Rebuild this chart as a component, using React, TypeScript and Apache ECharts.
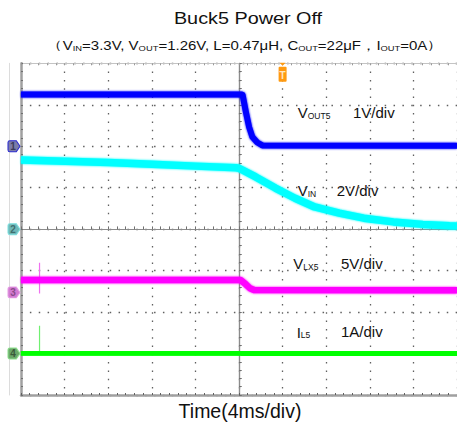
import React, { useEffect, useRef } from 'react';
import * as echarts from 'echarts';

// time in ms relative to the trigger (centre of the screen), 4 ms/div
const timeCh1 = [-20, 0.2, 0.33, 0.63, 0.93, 1.23, 1.68, 2.14, 20];
const vout = [1.25, 1.25, 1.24, 0.83, 0.46, 0.22, 0.09, 0.02, 0.01];

const timeCh2 = [-20, -15.94, -11.97, -8, -3.97, -0.27, 0, 1.53, 3.34, 5.14, 6.94, 9.2, 11.45, 14.16, 16.86, 19.3, 20];
const vin = [3.33, 3.28, 3.21, 3.13, 3.04, 2.96, 2.94, 2.52, 1.98, 1.49, 1.07, 0.77, 0.53, 0.35, 0.23, 0.16, 0.15];

const timeCh3 = [-20, 0.15, 0.6, 1.0, 1.38, 20];
const vlx = [1.48, 1.48, 1.0, 0.5, 0.28, 0.26];

const timeCh4 = [-20, 0.3, 0.45, 1.35, 1.5, 20];
const il = [0.025, 0.025, -0.01, -0.01, 0.02, 0.02];

const spikeTime = -18.3;
const vlxSpike = [3.57, -0.12];
const ilSpike = [0.67, 0];

const triggerTime = 4.0;

// channel settings: units per division and ground position (divisions from centre)
const channelScale = [1, 2, 5, 1];
const channelOffset = [2, 0, -1.525, -3];
const channelColor = ['#0000ff', '#00ffff', '#ff00ff', '#00ff00'];
const markerFill = ['#7c7ca8', '#6fb8b8', '#d27ad2', '#6aa86a'];
const markerBorder = ['#2a2ad0', '#7ee0e0', '#e6a0e6', '#8ee08e'];
const markerText = ['#3a3a5a', '#3f6f6f', '#8a4a8a', '#3a5a3a'];

const channelNames = [
  ['V', 'OUT5'],
  ['V', 'IN'],
  ['V', 'LX5'],
  ['I', 'L5'],
];
const channelDivLabels = ['1V/div', '2V/div', '5V/div', '1A/div'];

const FONT = '"Liberation Sans", Arial, sans-serif';

function toDiv(ch: number, times: number[], values: number[]) {
  return times.map((t, i) => [t, channelOffset[ch] + values[i] / channelScale[ch]]);
}

const FLAG = 'path://M2,0 L9,0 L13,6 L9,12 L2,12 Q0,12 0,10 L0,2 Q0,0 2,0 Z';

function chMarker(ch: number) {
  return {
    coord: [-20, channelOffset[ch]],
    symbol: FLAG,
    symbolSize: [12, 11],
    symbolOffset: [-7, 0],
    symbolKeepAspect: false,
    itemStyle: { color: markerFill[ch], borderColor: markerBorder[ch], borderWidth: 1 },
    label: {
      show: true,
      formatter: String(ch + 1),
      color: markerText[ch],
      fontSize: 10,
      fontWeight: 'bold',
      fontFamily: FONT,
      offset: [-1, 0],
    },
  };
}

function xAx(extra: any) {
  return Object.assign(
    {
      type: 'value',
      min: -20,
      max: 20,
      interval: 4,
      axisLabel: { show: false },
      splitLine: { show: false },
      axisTick: { show: false },
      minorTick: { show: false },
    },
    extra
  );
}
function yAx(extra: any) {
  return Object.assign(
    {
      type: 'value',
      min: -4,
      max: 4,
      interval: 1,
      axisLabel: { show: false },
      splitLine: { show: false },
      axisTick: { show: false },
      minorTick: { show: false },
    },
    extra
  );
}

const tickStyle = (inside: boolean, color: string, len = 2.5) => ({
  axisTick: { show: true, inside, length: len, lineStyle: { color, width: 1 } },
  minorTick: { show: true, splitNumber: 5, length: len, lineStyle: { color, width: 1 } },
});

function buildOption() {
  const lineSeries = (ch: number, times: number[], values: number[], width: number) => ({
    type: 'line',
    xAxisIndex: 0,
    yAxisIndex: 0,
    data: toDiv(ch, times, values),
    symbol: 'none',
    lineStyle: {
      color: channelColor[ch],
      width,
      cap: 'butt',
      join: 'round',
      shadowColor: channelColor[ch],
      shadowBlur: 2,
    },
    z: 5,
    markPoint: { data: [chMarker(ch)], animation: false, z: 10 },
  });

  const s1: any = lineSeries(0, timeCh1, vout, 6);
  s1.markPoint.data.push({
    coord: [triggerTime, 4],
    symbol: 'path://M1,0 L7,0 L4,3 Z M0,5 Q0,4 1,4 L7,4 Q8,4 8,5 L8,18 Q8,19 7,19 L1,19 Q0,19 0,18 Z',
    symbolSize: [8, 19],
    symbolOffset: [0, 9],
    symbolKeepAspect: false,
    itemStyle: { color: '#ff9a10' },
    label: {
      show: true,
      formatter: 'T',
      color: '#ffe6c0',
      fontSize: 10,
      fontWeight: 'bold',
      fontFamily: FONT,
      offset: [0, 3],
    },
  });

  const spike = (ch: number, values: number[], color: string) => ({
    type: 'line',
    xAxisIndex: 0,
    yAxisIndex: 0,
    data: toDiv(ch, [spikeTime, spikeTime], values),
    symbol: 'none',
    lineStyle: { color, width: 1.2 },
    z: 4,
  });

  const labelGraphics: any[] = [];
  const labelPos = [
    [297.7, 112.3, 353],
    [297.7, 190, 336.7],
    [293.3, 263.3, 341],
    [296.7, 331.7, 341],
  ];
  channelNames.forEach((nm, i) => {
    const [x, y, x2] = labelPos[i];
    labelGraphics.push({
      type: 'text',
      x,
      y,
      style: {
        text: `{m|${nm[0]}}{s|${nm[1]}}`,
        textVerticalAlign: 'middle',
        rich: {
          m: { fontSize: 15, fontFamily: FONT, fill: '#111', lineHeight: 16, verticalAlign: 'bottom' },
          s: { fontSize: 8.5, fontFamily: FONT, fill: '#111', lineHeight: 14, verticalAlign: 'bottom' },
        },
      },
    });
    labelGraphics.push({
      type: 'text',
      x: x2,
      y,
      style: {
        text: channelDivLabels[i],
        fontSize: 15,
        fontFamily: FONT,
        fill: '#111',
        textVerticalAlign: 'middle',
      },
    });
  });

  const subRich = {
    m: { fontSize: 12, fontFamily: FONT, fill: '#111', lineHeight: 14, verticalAlign: 'bottom' },
    s: { fontSize: 7.5, fontFamily: FONT, fill: '#111', lineHeight: 12, verticalAlign: 'bottom' },
  };

  return {
    animation: false,
    backgroundColor: '#ffffff',
    grid: { left: 21, top: 63.3, width: 443.5, height: 331.7, show: false },
    xAxis: [
      xAx({
        axisLine: { onZero: true, lineStyle: { color: '#8c8c8c', width: 1.2 } },
        splitLine: { show: true, lineStyle: { color: '#606060', width: 1.3, type: [1.5, 6.8] } },
        ...tickStyle(true, '#707070'),
      }),
      xAx({ axisLine: { onZero: true, lineStyle: { color: '#8c8c8c', width: 1.2 } }, ...tickStyle(false, '#707070') }),
      xAx({ position: 'bottom', axisLine: { onZero: false, lineStyle: { color: '#a0a0a0', width: 2.5 } }, ...tickStyle(true, '#606060', 2) }),
      xAx({ position: 'top', axisLine: { onZero: false, lineStyle: { color: '#c4c4c4', width: 1 } }, ...tickStyle(true, '#9a9a9a', 2) }),
    ],
    yAxis: [
      yAx({
        axisLine: { onZero: true, lineStyle: { color: '#8c8c8c', width: 1.2 } },
        splitLine: { show: true, lineStyle: { color: '#606060', width: 1.3, type: [1.5, 7.37] } },
        ...tickStyle(true, '#707070'),
      }),
      yAx({ axisLine: { onZero: true, lineStyle: { color: '#8c8c8c', width: 1.2 } }, ...tickStyle(false, '#707070') }),
      yAx({ position: 'left', axisLine: { onZero: false, lineStyle: { color: '#a0a0a0', width: 2.5 } }, ...tickStyle(true, '#707070', 2) }),
      yAx({ position: 'left', offset: 12, axisLine: { onZero: false, lineStyle: { color: '#dcdcdc', width: 1 } } }),
    ],
    series: [
      spike(2, vlxSpike, '#f070f0'),
      spike(3, ilSpike, '#70f070'),
      s1,
      lineSeries(1, timeCh2, vin, 7.5),
      lineSeries(2, timeCh3, vlx, 6.5),
      lineSeries(3, timeCh4, il, 6.5),
    ],
    graphic: [
      {
        type: 'text',
        x: 248,
        y: 19,
        scaleX: 1.2,
        style: {
          text: 'Buck5 Power Off',
          fontSize: 16.5,
          fontFamily: FONT,
          fill: '#111',
          textAlign: 'center',
          textVerticalAlign: 'middle',
        },
      },
      {
        type: 'text',
        x: 245,
        y: 45,
        scaleX: 1.25,
        style: {
          text:
            '（{m|V}{s|IN}{m|=3.3V, V}{s|OUT}{m|=1.26V, L=0.47μH, C}{s|OUT}{m|=22μF，I}{s|OUT}{m|=0A}）',
          fontSize: 12,
          fontFamily: FONT,
          fill: '#111',
          textAlign: 'center',
          textVerticalAlign: 'middle',
          rich: subRich,
        },
      },
      {
        type: 'text',
        x: 240,
        y: 411,
        style: {
          text: 'Time(4ms/div)',
          fontSize: 19.5,
          fontFamily: FONT,
          fill: '#111',
          textAlign: 'center',
          textVerticalAlign: 'middle',
        },
      },
      ...labelGraphics,
    ],
  };
}

export default function App() {
  const ref = useRef<HTMLDivElement>(null);
  useEffect(() => {
    document.body.style.margin = '0';
    const chart = echarts.init(ref.current!, null, { renderer: 'svg' });
    chart.setOption(buildOption() as any);
    return () => chart.dispose();
  }, []);
  return (
    <div
      ref={ref}
      style={{ position: 'fixed', left: 0, top: 0, width: 457, height: 423, background: '#fff', overflow: 'hidden' }}
    />
  );
}
